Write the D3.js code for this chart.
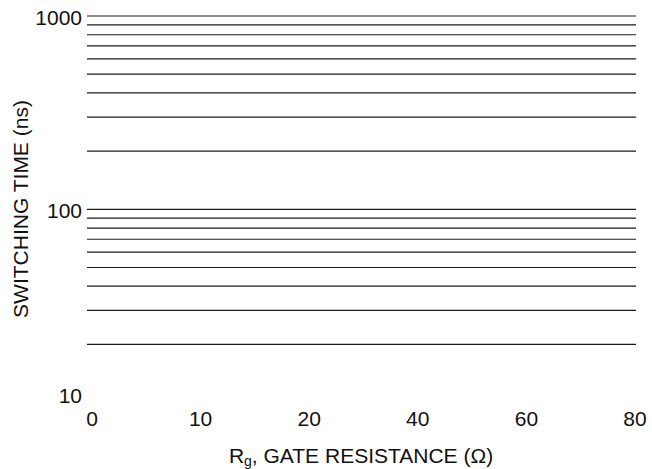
<!DOCTYPE html>
<html>
<head>
<meta charset="utf-8">
<script src="https://cdn.jsdelivr.net/npm/d3@7"></script>
<style>
  body { margin: 0; background: #fff; }
  svg { display: block; font-family: "Liberation Sans", Arial, sans-serif; }
  .grid line { stroke: #1a1a1a; stroke-width: 1.2; }
  .tick-label { font-size: 21px; fill: #111; }
  .title { font-size: 21px; fill: #111; }
</style>
</head>
<body>
<div class="chart"></div>
<script>
var width = 652;
var height = 469;

// x tick labels (evenly spaced on the sheet, even though 30/50/70 are skipped)
var xTicks = [0, 10, 20, 40, 60, 80];
// y axis decades
var yTicks = [10, 100, 1000];
// horizontal grid lines in ns
var gridValues = [20, 30, 40, 50, 60, 70, 80, 90, 100,
                  200, 300, 400, 500, 600, 700, 800, 900, 1000];

var xScale = d3.scalePoint()
    .domain(xTicks)
    .range([92, 635]);

var yScale = d3.scaleLog()
    .domain([10, 1000])
    .range([402.6, 16]);

var svg = d3.select('div.chart').append('svg')
    .attr('width', width)
    .attr('height', height);

svg.append('g')
    .attr('class', 'grid')
  .selectAll('line')
  .data(gridValues).enter().append('line')
    .attr('x1', 87)
    .attr('x2', 636)
    .attr('y1', d => yScale(d))
    .attr('y2', d => yScale(d));

// y labels; the bottom one sits on its line so it clears the x labels
svg.append('g')
  .selectAll('text')
  .data(yTicks).enter().append('text')
    .attr('class', 'tick-label')
    .attr('text-anchor', 'end')
    .attr('x', 82)
    .attr('y', d => d === 10 ? yScale(d) : yScale(d) + 1.5)
    .attr('dy', d => d === 10 ? 0 : '0.36em')
    .text(d => d);

svg.append('g')
  .selectAll('text')
  .data(xTicks).enter().append('text')
    .attr('class', 'tick-label')
    .attr('text-anchor', 'middle')
    .attr('x', d => xScale(d))
    .attr('y', 426)
    .text(d => d);

svg.append('text')
    .attr('class', 'title')
    .attr('text-anchor', 'middle')
    .attr('transform', 'translate(28,209) rotate(-90)')
    .text('SWITCHING TIME (ns)');

var xt = svg.append('text')
    .attr('class', 'title')
    .attr('text-anchor', 'middle')
    .attr('x', 361)
    .attr('y', 463);
xt.append('tspan').text('R');
xt.append('tspan').attr('font-size', '14px').attr('dy', 2.5).text('g');
xt.append('tspan').attr('dy', -2.5).text(', GATE RESISTANCE (\u03A9)');
</script>
</body>
</html>
